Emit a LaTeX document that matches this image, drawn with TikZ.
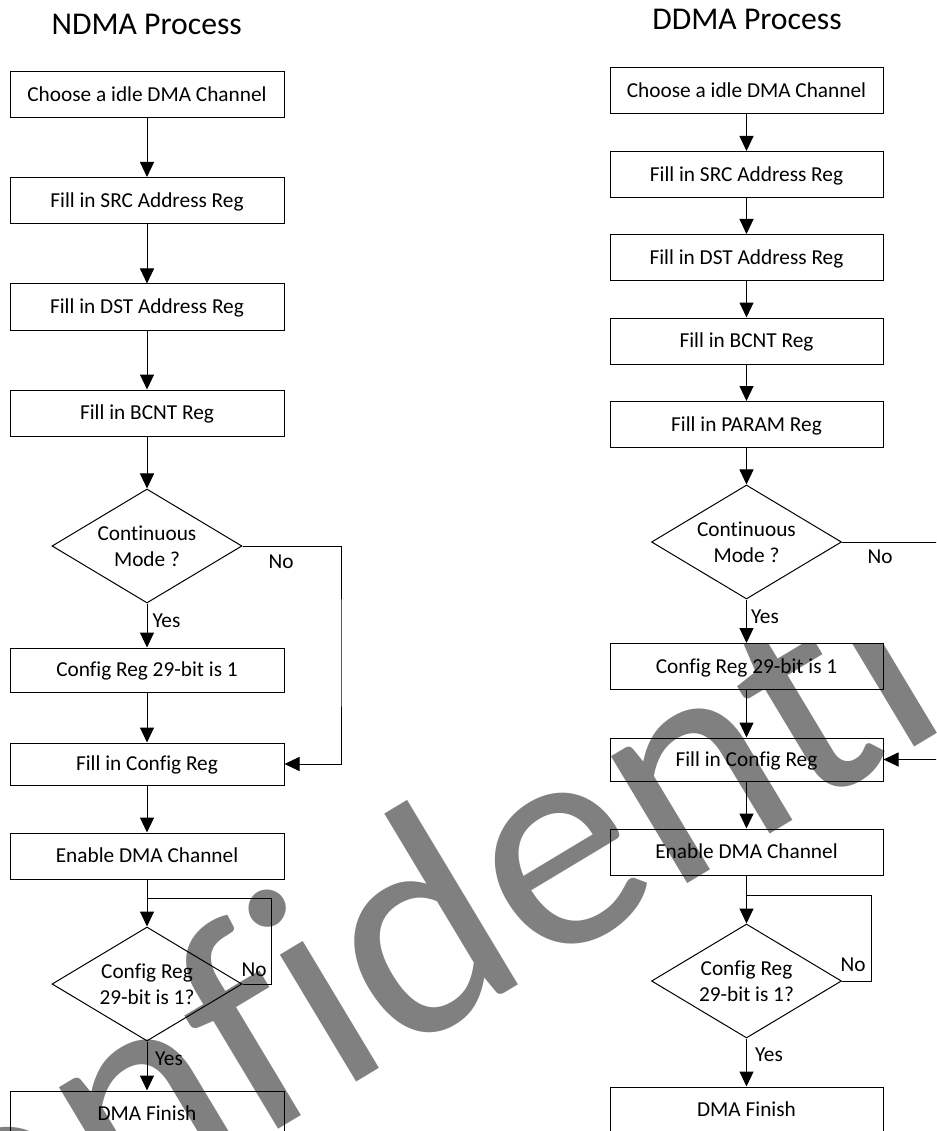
\documentclass[tikz,border=0pt]{standalone}
\usepackage{fontspec}
\setmainfont{Carlito}[Ligatures=NoCommon]
\usetikzlibrary{arrows.meta,shapes.geometric}
\definecolor{wmgray}{RGB}{128,128,128}
\newcommand\myfont{\fontsize{21.3}{25.5}\selectfont}
\newcommand\myttlfont{\fontsize{31.7}{36}\selectfont}
\newcommand\mywmfont{\fontsize{310}{320}\selectfont}
\begin{document}
\begin{tikzpicture}[x=1pt,y=-1pt,
  procbox/.style={draw, line width=1pt, minimum width=274pt, minimum height=46pt, inner sep=0pt, text height=13.5pt, text depth=0pt, font=\myfont},
  decision/.style={draw, shape=diamond, line width=1pt, aspect=1.667, minimum width=190pt, minimum height=114pt, inner sep=0pt, align=center, font=\myfont},
  arr/.style={line width=1pt, -{Triangle[length=15pt,width=14pt]}},
  conn/.style={line width=1pt},
  lbl/.style={font=\myfont, inner sep=0pt, text height=13.5pt, text depth=0pt},
  ttl/.style={font=\myttlfont, inner sep=0pt, text height=20pt, text depth=0pt}]
\useasboundingbox (0,0) rectangle (936,1131);
\clip (0,0) rectangle (936,1131);
\fill[white] (0,0) rectangle (936,1131);
% watermark (cut off above y = 643 as in the reference)
\begin{scope}
\clip (0,643) rectangle (936,1131);
\node[font=\mywmfont, text=wmgray, rotate=31, anchor=base west, inner sep=0pt] (wm) at (-164,1395) {Confidential};
\end{scope}
% titles
\node[ttl] (t1) at (146.7,24.5) {NDMA Process};
\node[ttl] (t2) at (747,20) {DDMA Process};
% NDMA column
\node[procbox] (n1) at (147,95) {Choose a idle DMA Channel};
\node[procbox] (n2) at (147,200.5) {Fill in SRC Address Reg};
\node[procbox] (n3) at (147,307) {Fill in DST Address Reg};
\node[procbox] (n4) at (147,413) {Fill in BCNT Reg};
\node[decision] (nd1) at (147,546) {Continuous\\Mode ?};
\node[procbox, minimum height=44pt] (n5) at (147,670) {Config Reg 29-bit is 1};
\node[procbox, minimum height=42pt] (n6) at (147,764) {Fill in Config Reg};
\node[procbox] (n7) at (147,856) {Enable DMA Channel};
\node[decision] (nd2) at (147,984) {Config Reg\\29-bit is 1?};
\node[procbox] (n8) at (147,1114) {DMA Finish};
\coordinate (nc1) at (341,650);
\coordinate (nc2) at (271,898);
\draw[arr] (n1) -- (n2);
\draw[arr] (n2) -- (n3);
\draw[arr] (n3) -- (n4);
\draw[arr] (n4) -- (nd1);
\draw[arr] (nd1.south) -- (n5);
\draw[arr] (n5) -- (n6);
\draw[arr] (nd1.east) -| (nc1) |- (n6.east);
\draw[arr] (n6) -- (n7);
\draw[arr] (n7) -- (nd2);
\draw[conn] (nd2.east) -| (nc2) -- (n7.south |- nc2);
\draw[arr] (nd2.south) -- (n8);
\node[lbl] (nno1) at (281,562) {No};
\node[lbl] (nyes1) at (166.5,621) {Yes};
\node[lbl] (nno2) at (254,970) {No};
\node[lbl] (nyes2) at (169,1059) {Yes};
% DDMA column
\begin{scope}[procbox/.append style={minimum width=273pt}]
\node[procbox] (d1) at (746.5,91) {Choose a idle DMA Channel};
\node[procbox] (d2) at (746.5,174.5) {Fill in SRC Address Reg};
\node[procbox] (d3) at (746.5,257.5) {Fill in DST Address Reg};
\node[procbox] (d4) at (746.5,341) {Fill in BCNT Reg};
\node[procbox] (d5) at (746.5,424.5) {Fill in PARAM Reg};
\node[decision] (dd1) at (746.5,542) {Continuous\\Mode ?};
\node[procbox] (d6) at (746.5,666.5) {Config Reg 29-bit is 1};
\node[procbox, minimum height=43pt] (d7) at (746.5,759.5) {Fill in Config Reg};
\node[procbox] (d8) at (746.5,852) {Enable DMA Channel};
\node[decision] (dd2) at (746.5,981) {Config Reg\\29-bit is 1?};
\node[procbox] (d9) at (746.5,1110) {DMA Finish};
\end{scope}
\coordinate (dc1) at (960,650);
\coordinate (dc2) at (871,895);
\draw[arr] (d1) -- (d2);
\draw[arr] (d2) -- (d3);
\draw[arr] (d3) -- (d4);
\draw[arr] (d4) -- (d5);
\draw[arr] (d5) -- (dd1);
\draw[arr] (dd1.south) -- (d6);
\draw[arr] (d6) -- (d7);
\draw[arr] (dd1.east) -| (dc1) |- (d7.east);
\draw[arr] (d7) -- (d8);
\draw[arr] (d8) -- (dd2);
\draw[conn] (dd2.east) -| (dc2) -- (d8.south |- dc2);
\draw[arr] (dd2.south) -- (d9);
\node[lbl] (dno1) at (880,557) {No};
\node[lbl] (dyes1) at (765,617) {Yes};
\node[lbl] (dno2) at (853,965) {No};
\node[lbl] (dyes2) at (769,1055) {Yes};
\end{tikzpicture}
\end{document}
